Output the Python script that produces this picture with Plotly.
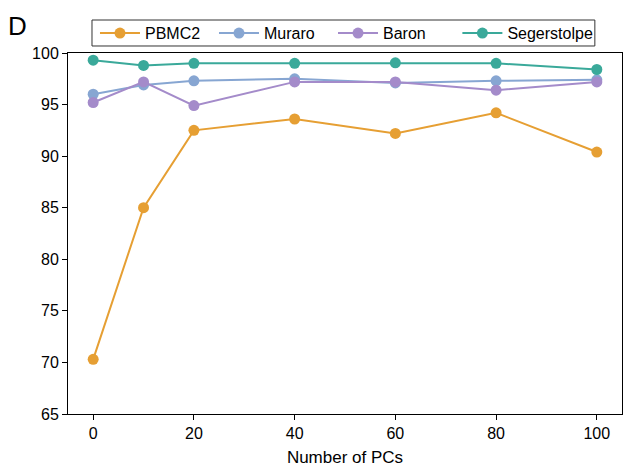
import plotly.graph_objects as go

pcs = [0, 10, 20, 40, 60, 80, 100]
pbmc2 = [70.3, 85.0, 92.5, 93.6, 92.2, 94.2, 90.4]
muraro = [96.0, 96.9, 97.3, 97.5, 97.1, 97.3, 97.4]
baron = [95.2, 97.2, 94.9, 97.2, 97.2, 96.4, 97.2]
segerstolpe = [99.3, 98.8, 99.0, 99.0, 99.05, 99.0, 98.4]

NB = "\u00a0"
series = [
    ("PBMC2", pbmc2, "#E69F33", 2),
    ("Muraro", muraro, "#87A6D2", 3),
    ("Baron", baron, "#A48BCA", 6),
    ("Segerstolpe", segerstolpe, "#3AA99A", 0),
]

fig = go.Figure()
for name, vals, col, pad in series:
    fig.add_trace(go.Scatter(
        x=pcs, y=vals, name=name + NB * pad, mode="lines+markers",
        line=dict(color=col, width=2),
        marker=dict(color=col, size=11),
    ))

font = dict(family="Liberation Sans, Arial, sans-serif", size=16, color="black")
fig.update_layout(
    width=627, height=467,
    margin=dict(l=68, r=5, t=53, b=53),
    paper_bgcolor="white", plot_bgcolor="white",
    font=font,
    showlegend=True,
    legend=dict(
        orientation="h", x=0.0487, y=1.055, xanchor="left", yanchor="middle",
        borderwidth=0, bgcolor="rgba(0,0,0,0)", font=dict(size=16),
        itemwidth=40, tracegroupgap=0,
    ),
    xaxis=dict(
        range=[-5, 105], tickvals=[0, 20, 40, 60, 80, 100],
        showline=True, linecolor="black", linewidth=1, mirror=True,
        ticks="outside", ticklen=5, tickcolor="black", showgrid=False, zeroline=False,
        automargin=False,
        title=dict(text="Number of PCs", font=dict(size=17), standoff=10),
    ),
    yaxis=dict(
        range=[65, 100], tickvals=[65, 70, 75, 80, 85, 90, 95, 100],
        showline=True, linecolor="black", linewidth=1, mirror=True,
        ticks="outside", ticklen=5, tickcolor="black", showgrid=False, zeroline=False,
        automargin=False,
    ),
    shapes=[dict(
        type="rect", xref="paper", yref="paper",
        x0=0.0433, x1=0.951, y0=1.0194, y1=1.0914,
        line=dict(color="#333333", width=1), fillcolor="rgba(255,255,255,0.8)",
        layer="below",
    )],
    annotations=[dict(
        text="D", x=-0.112, y=1.075, xref="paper", yref="paper", showarrow=False,
        xanchor="left", yanchor="middle",
        font=dict(size=26, family="Liberation Sans, Arial, sans-serif"),
    )],
)

fig.write_html("out.html")
